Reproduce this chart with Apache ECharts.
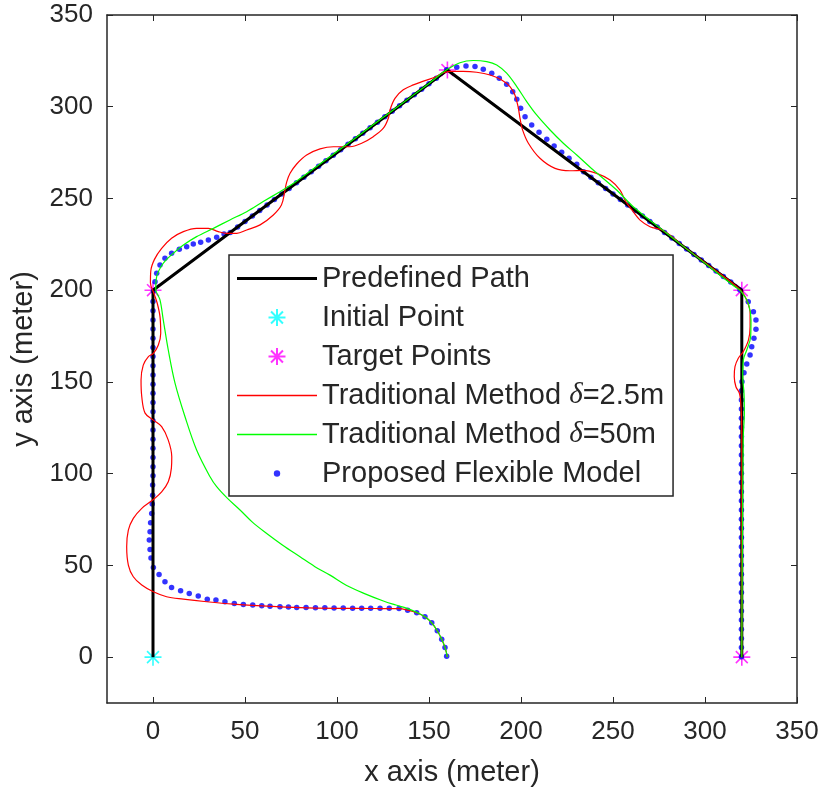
<!DOCTYPE html>
<html>
<head>
<meta charset="utf-8">
<script src="https://cdn.jsdelivr.net/npm/echarts@6/dist/echarts.min.js"></script>
<style>
  html, body { margin: 0; padding: 0; background: #fff; }
  #chart { width: 818px; height: 789px; }
</style>
</head>
<body>
<div id="chart"></div>
<script>
// tick values
var xTicks = [0, 50, 100, 150, 200, 250, 300, 350];
var yTicks = [0, 50, 100, 150, 200, 250, 300, 350];

// predefined path (corner points)
var predefinedPath = [[0, 0], [0, 200], [160, 320], [320, 200], [320, 0]];
var initialPoint = [[0, 0]];
var targetPoints = [[0, 200], [160, 320], [320, 200], [320, 0]];

// traditional method, delta = 2.5 m
var tradSmall = [
  [160, 0], [158.7, 5.3], [156.9, 9.8], [154.5, 14.4], [151.5, 18.7], [147.8, 22.0], [143.3, 24.2],
  [138.4, 25.6], [133.7, 26.4], [120, 26.5], [100, 26.6], [80, 27.0], [62, 27.8], [43.6, 28.9],
  [29.2, 30.2], [16.5, 31.6], [7.4, 32.9], [0.2, 35.6], [-6.1, 39.3], [-10.7, 43.8], [-13.4, 50.2],
  [-14.3, 60.1], [-13.4, 69.2], [-10.7, 75.6], [-6.1, 81.1], [-0.2, 85.6], [4.7, 90.1], [8.3, 95.6],
  [10.0, 103], [10.2, 109.2], [8.3, 118.3], [4.7, 125.6], [0.2, 129.2], [-4.3, 133.0], [-6.1, 141.9],
  [-6.5, 151.0], [-5.3, 159.2], [-2.6, 163.7], [0.2, 165.6], [2.9, 170.1], [4.2, 176.5], [3.8, 185.6],
  [2.3, 192.9], [0.5, 198.3], [-1.4, 204], [-1.2, 210.5], [0.8, 216.8], [4.7, 222.8], [10.1, 228.3],
  [16.5, 231.9], [23.7, 233.7], [30.1, 233.7], [35.5, 231.9], [40.1, 231.0], [45.5, 231.0],
  [50.9, 232.8], [58.2, 235.6], [65.4, 241.0], [69.8, 246.4], [71.6, 253.7], [72.6, 258.8],
  [74.5, 263.7], [78.1, 268.8], [83.5, 273.7], [90.8, 277.0], [98.0, 278.2], [103.4, 278.2],
  [107.1, 278.2], [113.4, 280.1], [119.7, 283.7], [125.2, 288.3], [127.9, 293.7], [128.8, 298.3],
  [131.5, 304.6], [136.0, 309.2], [141.5, 311.9], [147.8, 314.2], [153.5, 316.2], [157.5, 318.4],
  [161.4, 319.3], [168.6, 319.3], [175.9, 318.8], [183.2, 317.3], [189.5, 314.6], [194.0, 311.0],
  [196.7, 306.4], [198.4, 300.0], [199.5, 293.5], [200.8, 287.5], [204.0, 280.1], [210.3, 271.9],
  [218.5, 266.4], [226.6, 265.1], [233.9, 265.3], [241.1, 263.7], [248.4, 260.1], [253.8, 254.6],
  [256.5, 249.2], [258.3, 246.4], [261.0, 242.8], [264.7, 238.2], [270.1, 234.6], [277.3, 232.5],
  [290, 222.6], [305, 211.3], [315, 203.8], [319.5, 199.8], [322.7, 194.7], [324.5, 187.4],
  [324.5, 180.1], [323.6, 172.8], [320.8, 166.5], [318.1, 162.9], [316.3, 158.3], [315.9, 152.8],
  [316.8, 147.4], [318.7, 143.8], [319.6, 136.5], [320, 120], [320, 60], [320, 0]
];

// traditional method, delta = 50 m
var tradLarge = [
  [160, 0], [158.7, 5.3], [156.9, 9.8], [154.5, 14.4], [151.5, 18.7], [147.8, 22.0], [143.3, 24.4],
  [138, 26.6], [132, 28.4], [125.2, 30.6], [114.3, 34.9], [105, 39.2], [96.2, 44.7], [88, 49.3],
  [79.9, 54.7], [70.5, 61], [61.8, 67.4], [54, 73.6], [47.3, 80.2], [40.5, 86.5], [34.6, 92.9],
  [31.0, 98.3], [23.7, 112.9], [17.4, 131.0], [12.0, 149.2], [8.3, 167.4], [5.6, 183.7], [3.8, 194.7],
  [1.5, 200.5], [2.0, 207.4], [5.6, 214.7], [11.0, 220.1], [16.5, 224.6], [23.7, 229.2], [32.8, 233.7],
  [41.8, 238.3], [50.9, 242.8], [59.9, 248.3], [69.0, 253.7], [76, 258.0], [90, 268.2], [110, 283.0],
  [130, 297.8], [150, 312.7], [159.6, 320.1], [166.8, 324.0], [174.1, 325.2], [181.4, 324.6],
  [186.8, 322.8], [192.2, 318.3], [197.7, 311.0], [203.1, 302.8], [208.5, 295.5], [215.8, 287.3],
  [223.0, 280.1], [230.3, 273.7], [239.3, 265.5], [252.0, 254.6], [261.0, 245.5], [279.2, 231.0],
  [297.3, 216.8], [315.4, 202.6], [319.6, 199.4], [323.5, 192.8], [325.0, 183.7], [324.8, 174.6],
  [322.7, 167.4], [320.8, 161.9], [320.5, 152.8], [321.2, 143.8], [321.4, 132.9], [320.8, 120],
  [320.3, 60], [320, 0]
];

// proposed flexible model (dots)
var flexibleModel = [
  [159.6, 0.5], [158.7, 5.3], [156.9, 9.8], [154.5, 14.4], [151.5, 18.7], [147.8, 22.0], [143.3, 24.2],
  [138.4, 25.6], [133.7, 26.5], [128.4, 26.6], [123.4, 26.6], [118.3, 26.6], [113.4, 26.7], [108.5, 26.7],
  [103.4, 26.8], [98.4, 26.8], [93.4, 26.9], [88.3, 26.9], [83.2, 27.0], [78.1, 27.1], [73.6, 27.3],
  [69.0, 27.4], [63.6, 27.8], [59.1, 28.0], [54.2, 28.4], [49.1, 28.7], [44.2, 29.3], [39.1, 30.2],
  [34.2, 31.1], [29.5, 31.6], [24.6, 33.3], [19.7, 34.7], [15.0, 36.2], [10.1, 38.0], [6.5, 41.1],
  [3.3, 45.1], [0.2, 48.9], [-1.1, 54.1], [-1.6, 58.7], [-2.0, 63.8], [-1.6, 68.3], [-1.3, 73.2],
  [-0.7, 78.3], [-0.4, 83.4], [-0.2, 88.3], [-0.2, 93.8], [0, 98.8], [0, 103.8], [0, 108.8], [0, 113.8],
  [0, 118.8], [0, 123.8], [0, 128.8], [0, 133.8], [0, 138.8], [0, 143.8], [0, 148.8], [0, 153.8],
  [0, 158.8], [0, 163.8], [0, 168.8], [0, 173.8], [0, 178.8], [0, 183.8], [0, 188.8], [0, 193.8],
  [0.2, 199.5], [1.1, 204.6], [2.0, 209.2], [3.8, 213.7], [6.5, 217.4], [10.1, 220.1], [14.3, 222.3],
  [18.3, 223.7], [21.9, 225.2], [25.9, 226.1], [30.1, 227.4], [34.6, 228.8], [38.6, 230.6],
  [42, 231.5], [46, 234.5], [50, 237.5], [54, 240.5], [58, 243.5], [62, 246.5], [66, 249.5], [70, 252.5],
  [74, 255.5], [78, 258.5], [82, 261.5], [86, 264.5], [90, 267.5], [94, 270.5], [98, 273.5], [102, 276.5],
  [106, 279.5], [110, 282.5], [114, 285.5], [118, 288.5], [122, 291.5], [126, 294.5], [130, 297.5],
  [134, 300.5], [138, 303.5], [142, 306.5], [146, 309.5], [150, 312.5], [154, 315.5], [159.6, 320.1],
  [165.1, 321.5], [170.1, 322.2], [175.0, 321.9], [179.5, 320.4], [184.1, 318.3], [188.2, 315.5],
  [192.2, 312.3], [195.5, 308.2], [197.7, 304.1], [199.8, 299.2], [202.2, 294.6], [205.8, 290.1],
  [209.8, 286.1], [214.0, 282.3], [218.0, 278.6], [222.1, 275.2], [226.1, 271.9], [230.3, 268.6],
  [234, 264.5], [238, 261.5], [242, 258.5], [246, 255.5], [250, 252.5], [254, 249.5], [258, 246.5],
  [262, 243.5], [266, 240.5], [270, 237.5], [274, 234.5], [278, 231.5], [282, 228.5], [286, 225.5],
  [290, 222.5], [294, 219.5], [298, 216.5], [302, 213.5], [306, 210.5], [310, 207.5], [314, 204.5],
  [319.0, 200.1], [323.5, 193.7], [326.3, 188.3], [327.7, 183.7], [327.7, 178.7], [326.6, 173.8],
  [325.4, 169.2], [324.5, 164.7], [322.7, 159.8], [321.2, 155.0], [320.1, 150.1], [319.8, 145.2],
  [319.8, 140.2], [319.8, 135.2], [319.8, 130.2], [319.8, 125.2], [319.8, 120.2], [319.8, 115.2],
  [319.8, 110.2], [319.8, 105.2], [319.8, 100.2], [319.8, 95.2], [319.8, 90.2], [319.8, 85.2],
  [319.8, 80.2], [319.8, 75.2], [319.8, 70.2], [319.8, 65.2], [319.8, 60.2], [319.8, 55.2],
  [319.8, 50.2], [319.8, 45.2], [319.8, 40.2], [319.8, 35.2], [319.8, 30.2], [319.8, 25.2],
  [319.8, 20.2], [319.8, 15.2], [319.8, 10.2], [319.8, 5.2], [319.8, 0.2]
];

var myChart = echarts.init(document.getElementById('chart'));

var axisColor = '#262626';
var fontFamily = '"Liberation Sans", Arial, Helvetica, sans-serif';
// MATLAB style '*' marker
var asterisk = 'path://M0,-10L0,10M-10,0L10,0M-7,-7L7,7M-7,7L7,-7';
// small dot inside a padded box, so the legend icon stays small
var dotIcon = 'path://M-8,-8M8,8M3,0A3,3,0,1,1,-3,0A3,3,0,1,1,3,0Z';
// plain line samples for the legend (no symbol in the middle)
var thickLineIcon = 'path://M0,0L80,0L80,3L0,3Z';
var thinLineIcon = 'path://M0,0L80,0L80,1.5L0,1.5Z';

function frameAxis(position, ticks, main) {
  return {
    type: 'value',
    position: position,
    min: -25,
    max: 350,
    axisLine: { show: true, onZero: false, lineStyle: { color: axisColor, width: 1.5 } },
    axisTick: { show: true, inside: true, length: 6, customValues: ticks, lineStyle: { color: axisColor, width: 1 } },
    axisLabel: main ? {
      show: true, customValues: ticks, margin: position === 'bottom' ? 16 : 14,
      fontSize: 26, color: axisColor, fontFamily: fontFamily
    } : { show: false },
    splitLine: { show: false }
  };
}

var xBottom = frameAxis('bottom', xTicks, true);
xBottom.name = 'x axis (meter)';
xBottom.nameLocation = 'middle';
xBottom.nameGap = 55;
xBottom.nameTextStyle = { fontSize: 29, color: axisColor, fontFamily: fontFamily };

var yLeft = frameAxis('left', yTicks, true);
yLeft.name = 'y axis (meter)';
yLeft.nameLocation = 'middle';
yLeft.nameGap = 65;
yLeft.nameTextStyle = { fontSize: 29, color: axisColor, fontFamily: fontFamily };

var options = {
  animation: false,
  backgroundColor: '#fff',
  grid: { left: 107, right: 21, top: 15, bottom: 86, containLabel: false, outerBoundsMode: 'none' },
  xAxis: [xBottom, frameAxis('top', xTicks, false)],
  yAxis: [yLeft, frameAxis('right', yTicks, false)],
  legend: {
    orient: 'vertical',
    left: 229,
    top: 255,
    padding: [9, 9, 8, 8],
    itemGap: 10,
    itemWidth: 80,
    itemHeight: 17,
    selectedMode: false,
    backgroundColor: '#fff',
    borderColor: axisColor,
    borderWidth: 1.5,
    textStyle: {
      fontSize: 29, color: axisColor, fontFamily: fontFamily,
      rich: { d: { fontSize: 29, fontStyle: 'italic', fontFamily: '"Liberation Serif", serif', color: axisColor } }
    },
    formatter: function (name) {
      return name.replace('δ', '{d|δ}');
    },
    data: [
      { name: 'Predefined Path', icon: thickLineIcon, itemStyle: { color: '#000000', borderWidth: 0 } },
      { name: 'Initial Point', icon: asterisk },
      { name: 'Target Points', icon: asterisk },
      { name: 'Traditional Method δ=2.5m', icon: thinLineIcon, itemStyle: { color: '#ff0000', borderWidth: 0 } },
      { name: 'Traditional Method δ=50m', icon: thinLineIcon, itemStyle: { color: '#00ff00', borderWidth: 0 } },
      { name: 'Proposed Flexible Model', icon: dotIcon, itemStyle: { color: '#0000ff', borderWidth: 0 } }
    ]
  },
  series: [
    {
      name: 'Predefined Path', type: 'line', data: predefinedPath, symbol: 'none',
      lineStyle: { color: '#000', width: 3 }, itemStyle: { color: '#000' }
    },
    {
      name: 'Initial Point', type: 'scatter', data: initialPoint, symbol: asterisk, symbolSize: 17,
      itemStyle: { color: '#00ffff', borderColor: '#00ffff', borderWidth: 1.6 }
    },
    {
      name: 'Target Points', type: 'scatter', data: targetPoints, symbol: asterisk, symbolSize: 17,
      itemStyle: { color: '#ff00ff', borderColor: '#ff00ff', borderWidth: 1.6 }
    },
    {
      name: 'Traditional Method δ=2.5m', type: 'line', data: tradSmall, symbol: 'none', smooth: 0.35,
      lineStyle: { color: '#ff0000', width: 1.2 }, itemStyle: { color: '#ff0000' }
    },
    {
      name: 'Traditional Method δ=50m', type: 'line', data: tradLarge, symbol: 'none', smooth: 0.35,
      lineStyle: { color: '#00ff00', width: 1.2 }, itemStyle: { color: '#00ff00' }
    },
    {
      name: 'Proposed Flexible Model', type: 'scatter', data: flexibleModel, symbol: 'circle', symbolSize: 5.5,
      itemStyle: { color: '#0000ff' }
    }
  ]
};

myChart.setOption(options);
</script>
</body>
</html>
